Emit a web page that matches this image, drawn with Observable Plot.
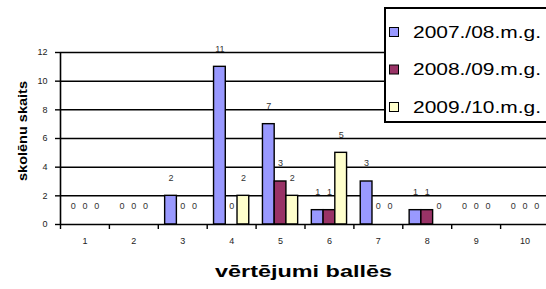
<!DOCTYPE html>
<html>
<head>
<meta charset="utf-8">
<script src="https://cdn.jsdelivr.net/npm/d3@7"></script>
<script src="https://cdn.jsdelivr.net/npm/@observablehq/plot@0.6"></script>
<style>
  body { margin: 0; background: #fff; }
  #wrap { position: relative; width: 546px; height: 289px; overflow: hidden; }
  #legend { position: absolute; left: 0; top: 0; }
</style>
</head>
<body>
<div id="wrap"></div>
<script>
// ---- data ----
const categories = [1, 2, 3, 4, 5, 6, 7, 8, 9, 10];
const seriesNames = ["2007./08.m.g.", "2008./09.m.g.", "2009./10.m.g."];
const values2007 = [0, 0, 2, 11, 7, 1, 3, 1, 0, 0];
const values2008 = [0, 0, 0, 0, 3, 1, 0, 1, 0, 0];
const values2009 = [0, 0, 0, 2, 2, 5, 0, 0, 0, 0];
const seriesColors = ["#9999FF", "#993366", "#FFFFCC"];
const yTicks = [0, 2, 4, 6, 8, 10, 12];
const xTitle = "vērtējumi ballēs";
const yTitle = "skolēnu skaits";

const seriesValues = [values2007, values2008, values2009];
const rows = [];
seriesValues.forEach((vals, si) => {
  vals.forEach((v, ci) => rows.push({cat: categories[ci], series: seriesNames[si], si, value: v}));
});

// bar layout within each category (fractions of category width)
const barW = 0.24;
const start = -0.36;
const x1 = d => d.cat + start + d.si * barW;
const x2 = d => d.cat + start + (d.si + 1) * barW;
const xc = d => d.cat + start + (d.si + 0.5) * barW;

const font = "Liberation Sans, Arial, sans-serif";

const chart = Plot.plot({
  width: 546,
  height: 289,
  marginLeft: 60,
  marginRight: 0,
  marginTop: 52,
  marginBottom: 65,
  style: {fontFamily: font, background: "white", overflow: "visible"},
  x: {type: "linear", domain: [0.5, 10.5], range: [60, 549]},
  y: {domain: [0, 12], range: [224, 52]},
  color: {domain: seriesNames, range: seriesColors},
  marks: [
    Plot.ruleY(yTicks.filter(t => t > 0), {x1: 0.5, x2: 10.5, stroke: "#000", strokeWidth: 1.5}),
    Plot.rectY(rows.filter(d => d.value > 0), {
      x1, x2, y1: 0, y2: "value", fill: "series", stroke: "#000", strokeWidth: 1.4
    }),
    Plot.text(rows, {x: xc, y: "value", text: d => String(d.value), dy: -18, fontSize: 9, fill: "#333"}),
    Plot.ruleY([0], {x1: 0.5, x2: 10.5, stroke: "#000", strokeWidth: 1.6}),
    Plot.ruleX([0.5], {y1: 0, y2: 12, stroke: "#000", strokeWidth: 1.6}),
    Plot.axisY(yTicks, {tickSize: 5, tickPadding: 8, fontSize: 9, stroke: "#000", fill: "#222", strokeWidth: 1.4, label: null}),
    Plot.axisX(d3.range(0.5, 10.6, 1), {tickSize: 5, tickFormat: () => "", stroke: "#000", strokeWidth: 1.4, label: null}),
    Plot.text(categories, {x: d => d, frameAnchor: "bottom", dy: 19, fontSize: 9, fill: "#222"}),
    Plot.text([xTitle], {frameAnchor: "bottom", dy: 52, fontSize: 17, fontWeight: "bold", fill: "#000", className: "xtitle"})
  ]
});

document.getElementById("wrap").appendChild(chart);

// stretch title as in the reference rendering
d3.select(chart).selectAll(".xtitle text").attr("textLength", 177).attr("lengthAdjust", "spacingAndGlyphs");

// ---- overlay: y title + legend ----
const leg = d3.select("#wrap").append("svg")
  .attr("id", "legend").attr("width", 546).attr("height", 289)
  .style("pointer-events", "none");

leg.append("text")
  .attr("transform", "translate(27,131) rotate(-90)")
  .attr("text-anchor", "middle")
  .attr("font-family", font).attr("font-size", 13).attr("font-weight", "bold").attr("fill", "#000")
  .attr("textLength", 100).attr("lengthAdjust", "spacingAndGlyphs")
  .text(yTitle);

leg.append("rect").attr("x", 385).attr("y", 8).attr("width", 200).attr("height", 114)
  .attr("fill", "#fff").attr("stroke", "#000").attr("stroke-width", 2);
const items = leg.selectAll("g.item").data(seriesNames).join("g")
  .attr("transform", (d, i) => `translate(0, ${i * 37.5})`);
items.append("rect").attr("x", 389.5).attr("y", 27.5).attr("width", 9).attr("height", 9)
  .attr("fill", (d, i) => seriesColors[i]).attr("stroke", "#000").attr("stroke-width", 1);
items.append("text").attr("x", 413).attr("y", 37.5)
  .attr("font-family", font).attr("font-size", 17).attr("fill", "#000")
  .attr("textLength", 128).attr("lengthAdjust", "spacingAndGlyphs")
  .text(d => d);
</script>
</body>
</html>
